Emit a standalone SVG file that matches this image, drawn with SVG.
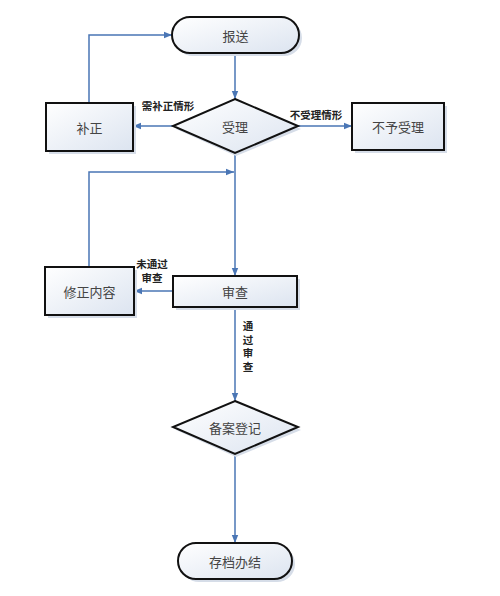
<svg xmlns="http://www.w3.org/2000/svg" width="500" height="596" viewBox="0 0 500 596">
<defs>
<linearGradient id="g" x1="0" y1="0" x2="1" y2="1">
<stop offset="0" stop-color="#ffffff"/>
<stop offset="1" stop-color="#dce4f0"/>
</linearGradient>
<marker id="ar" viewBox="0 0 10 10" refX="10" refY="5" markerWidth="8" markerHeight="8" markerUnits="userSpaceOnUse" orient="auto">
<path d="M0,1 L10,5 L0,9 z" fill="#4a76b5"/>
</marker>
<style>
.n{fill:url(#g);stroke:#111;stroke-width:2}
.sh{fill:#d6dde8;stroke:none}
.t{font-family:"Noto Sans CJK SC","Noto Sans",sans-serif;font-size:13px;fill:#444;text-anchor:middle;dominant-baseline:central}
.l{font-family:"Noto Sans CJK SC","Noto Sans",sans-serif;font-size:10.5px;font-weight:bold;fill:#222;text-anchor:middle}
.c{fill:none;stroke:#4a76b5;stroke-width:1.5;marker-end:url(#ar)}
</style>
</defs>
<rect width="500" height="596" fill="#fff"/>
<g id="connectors">
<path class="c" d="M235,53 V99"/>
<path class="c" d="M173,126 H133"/>
<path class="c" d="M89,103 V35 H172"/>
<path class="c" d="M298,126 H352"/>
<path class="c" d="M235,153 V276"/>
<path class="c" d="M89,267 V172 H234"/>
<path class="c" d="M173,291 H134"/>
<path class="c" d="M235,307 V401"/>
<path class="c" d="M235,454 V543"/>
</g>
<g id="labels">
<text class="l" x="168" y="110">需补正情形</text>
<text class="l" x="316" y="119">不受理情形</text>
<text class="l" x="152" y="268">未通过<tspan x="152" dy="13.5">审查</tspan></text>
<text class="l" x="248" y="330">通<tspan x="248" dy="13.5">过</tspan><tspan x="248" dy="13.5">审</tspan><tspan x="248" dy="13.5">查</tspan></text>
</g>
<g id="n-baosong">
<rect class="sh" x="175" y="20" width="127" height="36" rx="18"/>
<rect class="n" x="172" y="17" width="127" height="36" rx="18"/>
<text class="t" x="235.5" y="35">报送</text>
</g>
<g id="n-shouli">
<polygon class="sh" points="236,102 301,129 236,156 176,129"/>
<polygon class="n" points="235,99 298,126 235,153 173,126"/>
<text class="t" x="235" y="126">受理</text>
</g>
<g id="n-buzheng">
<rect class="sh" x="49" y="106" width="87" height="48"/>
<rect class="n" x="46" y="103" width="87" height="48"/>
<text class="t" x="89.5" y="127">补正</text>
</g>
<g id="n-buyushouli">
<rect class="sh" x="355" y="106" width="92" height="47"/>
<rect class="n" x="352" y="103" width="92" height="47"/>
<text class="t" x="398" y="126.5">不予受理</text>
</g>
<g id="n-xiuzheng">
<rect class="sh" x="48" y="270" width="89" height="48"/>
<rect class="n" x="45" y="267" width="89" height="48"/>
<text class="t" x="89.5" y="291">修正内容</text>
</g>
<g id="n-shencha">
<rect class="sh" x="176" y="279" width="124" height="31"/>
<rect class="n" x="173" y="276" width="124" height="31"/>
<text class="t" x="235" y="291.5">审查</text>
</g>
<g id="n-beian">
<polygon class="sh" points="236,404 301,430 236,457 176,430"/>
<polygon class="n" points="235,401 298,427 235,454 173,427"/>
<text class="t" x="235" y="427">备案登记</text>
</g>
<g id="n-cundang">
<rect class="sh" x="181" y="546" width="114" height="36" rx="18"/>
<rect class="n" x="178" y="543" width="114" height="36" rx="18"/>
<text class="t" x="235" y="561">存档办结</text>
</g>
</svg>
